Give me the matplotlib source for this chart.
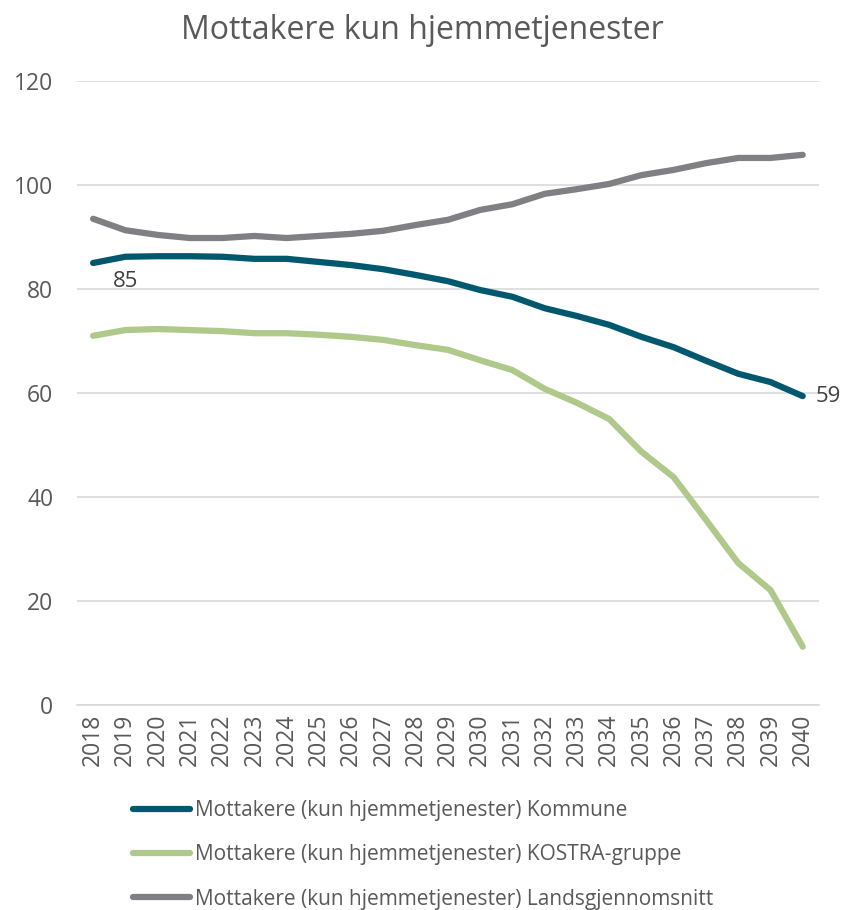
import numpy as np
import matplotlib
matplotlib.use("Agg")
import matplotlib.pyplot as plt

plt.rcParams['font.family'] = ['Open Sans', 'DejaVu Sans']

years = list(range(2018, 2041))
kommune = [85.0, 86.2, 86.3, 86.3, 86.2, 85.8, 85.8, 85.2, 84.6, 83.8, 82.7, 81.5,
           79.8, 78.5, 76.3, 74.8, 73.1, 70.8, 68.8, 66.2, 63.7, 62.1, 59.4]
kostra = [71.0, 72.1, 72.3, 72.1, 71.9, 71.5, 71.5, 71.2, 70.8, 70.2, 69.2, 68.3,
          66.3, 64.4, 60.8, 58.1, 55.0, 48.7, 43.8, 35.6, 27.3, 22.1, 11.2]
lands = [93.5, 91.3, 90.4, 89.8, 89.8, 90.2, 89.8, 90.2, 90.6, 91.2, 92.3, 93.3,
         95.2, 96.3, 98.3, 99.2, 100.2, 101.9, 102.9, 104.2, 105.2, 105.2, 105.8]
labels = ['Mottakere (kun hjemmetjenester) Kommune',
          'Mottakere (kun hjemmetjenester) KOSTRA-gruppe',
          'Mottakere (kun hjemmetjenester) Landsgjennomsnitt']
colors = ['#00586F', '#AFC98A', '#7F7F84']
txt = '#595959'

fig = plt.figure(figsize=(8.44, 9.10), dpi=100)
ax = fig.add_axes([0.0912, 0.2253, 0.879, 0.6857])

lines = []
for vals, lab, c in zip([kommune, kostra, lands], labels, colors):
    l, = ax.plot(years, vals, color=c, lw=4.5, solid_capstyle='round', label=lab)
    lines.append(l)

ax.set_xlim(2017.5, 2040.5)
ax.set_ylim(0, 120)
ax.set_yticks(range(0, 121, 20))
ax.set_xticks(years)
ax.set_xticklabels([str(y) for y in years], rotation=90)
ax.grid(axis='y', color='#D9D9D9', lw=1.2)
ax.set_axisbelow(True)
for s in ['top', 'right', 'left']:
    ax.spines[s].set_visible(False)
ax.spines['bottom'].set_color('#D9D9D9')
ax.spines['bottom'].set_linewidth(1.2)
ax.tick_params(axis='both', length=0, labelsize=16.5, labelcolor=txt)
ax.tick_params(axis='y', pad=17)
ax.tick_params(axis='x', pad=6)

ax.annotate(f'{round(kommune[0])}', (years[1], kommune[1]), xytext=(0, -10),
            textcoords='offset points', ha='center', va='top', fontsize=16, color='#404040')
ax.annotate(f'{round(kommune[-1])}', (years[-1], kommune[-1]), xytext=(9, 0),
            textcoords='offset points', ha='left', va='center', fontsize=16, color='#404040')

fig.text(0.5, 0.967, 'Mottakere kun hjemmetjenester', ha='center', va='center',
         fontsize=23, color=txt)

fig.legend(handles=lines, loc='upper left', bbox_to_anchor=(0.158, 0.121),
           frameon=False, fontsize=15, handlelength=2.7, handletextpad=0.25,
           labelspacing=1.12, labelcolor=txt, borderaxespad=0, borderpad=0)

fig.savefig('out.png', dpi=100)
